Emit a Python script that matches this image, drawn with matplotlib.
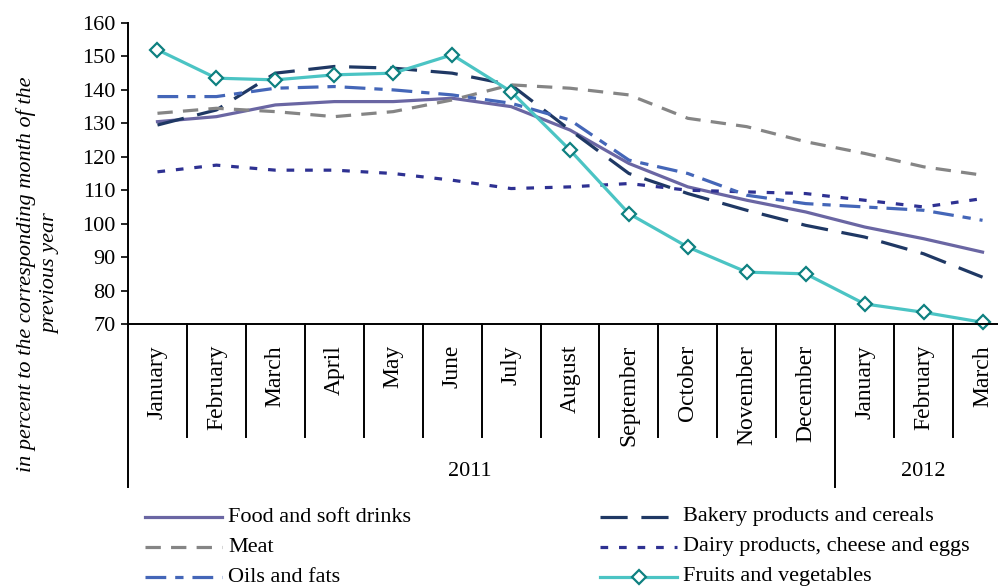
import matplotlib
matplotlib.use("Agg")
import matplotlib.pyplot as plt
from matplotlib.lines import Line2D
import matplotlib.transforms as mtrans

months = ["January", "February", "March", "April", "May", "June", "July",
          "August", "September", "October", "November", "December",
          "January", "February", "March"]
years = ["2011", "2012"]

food = [130.5, 132, 135.5, 136.5, 136.5, 137.5, 135, 128, 118, 111, 107, 103.5, 99, 95.5, 91.5]
bakery = [129.5, 134, 145, 147, 146.5, 145, 141.5, 128, 115, 109, 104, 99.5, 96, 91, 84]
meat = [133, 134.5, 133.5, 132, 133.5, 137, 141.5, 140.5, 138.5, 131.5, 129, 124.5, 121, 117, 114.5]
dairy = [115.5, 117.5, 116, 116, 115, 113, 110.5, 111, 112, 110, 109.5, 109, 107, 105, 107.5]
oils = [138, 138, 140.5, 141, 140, 138.5, 136, 131, 119, 115, 108.5, 106, 105, 104, 101]
fruits = [152, 143.5, 143, 144.5, 145, 150.5, 139.5, 122, 103, 93, 85.5, 85, 76, 73.5, 70.5]

plt.rcParams['font.family'] = ['Liberation Serif', 'DejaVu Serif']
FS = 16

W, H = 998, 588
fig = plt.figure(figsize=(W / 100, H / 100), dpi=100)
left, right, top, bottom = 128, 1012, 23, 324
ax = fig.add_axes([left / W, 1 - bottom / H, (right - left) / W, (bottom - top) / H])

x = list(range(len(months)))
lw = 2.3
styles = [
    ("Food and soft drinks", food, dict(color="#6A66A3", lw=lw, ls="-")),
    ("Bakery products and cereals", bakery, dict(color="#1F3864", lw=lw, ls=(0, (8.5, 4.3)))),
    ("Meat", meat, dict(color="#858585", lw=lw, ls=(0, (4.8, 3.2)))),
    ("Dairy products, cheese and eggs", dairy, dict(color="#2E3192", lw=lw, ls=(0, (2.4, 3.4)))),
    ("Oils and fats", oils, dict(color="#4466B8", lw=lw, ls=(0, (6.5, 2.8, 2.6, 2.8)))),
    ("Fruits and vegetables", fruits, dict(color="#4BC4C4", lw=lw, ls="-", marker="D",
                                          ms=7.5, mfc="white", mec="#0E8080", mew=1.6)),
]
for name, vals, st in styles:
    ax.plot(x, vals, clip_on=False, zorder=3, **st)

ax.set_xlim(-0.5, len(months) - 0.5)
ax.set_ylim(70, 160)
ax.set_yticks(range(70, 161, 10))
ax.tick_params(axis='y', direction='out', length=5, width=1.2, labelsize=FS, pad=4)
ax.tick_params(axis='x', length=0, labelbottom=False)
for s in ["top", "right"]:
    ax.spines[s].set_visible(False)
ax.spines["left"].set_linewidth(1.4)
ax.spines["bottom"].set_linewidth(1.4)
ax.spines["bottom"].set_zorder(4)

trans = mtrans.blended_transform_factory(ax.transData, ax.transAxes)
axh = bottom - top
for i in range(len(months) + 1):
    xs = i - 0.5
    depth = (487 - bottom) / axh if i in (0, 12) else (437 - bottom) / axh
    ax.add_line(Line2D([xs, xs], [0, -depth], transform=trans, color="black",
                       lw=1.4, clip_on=False))
for i, m in enumerate(months):
    ax.text(i, -(345 - bottom) / axh, m, transform=trans, rotation=90,
            ha="center", va="top", fontsize=17)
ax.text(5.3, -(472 - bottom) / axh, years[0], transform=trans, ha="center",
        va="center", fontsize=FS)
ax.text(13.0, -(472 - bottom) / axh, years[1], transform=trans, ha="center",
        va="center", fontsize=FS)

fig.text(38 / W, 1 - 274 / H, "in percent to the corresponding month of the\nprevious year",
         rotation=90, ha="center", va="center", fontsize=FS, style="italic",
         linespacing=1.4)

# legend
cols = [(145, 222, 228), (600, 677, 683)]
rows = [517, 547, 577]
for k, (name, vals, st) in enumerate(styles):
    c = k % 2
    r = k // 2
    x0, x1, tx = cols[c]
    yy = 1 - rows[r] / H
    st2 = dict(st)
    mk = st2.pop("marker", None)
    ms = st2.pop("ms", None)
    mfc = st2.pop("mfc", None)
    mec = st2.pop("mec", None)
    mew = st2.pop("mew", None)
    fig.add_artist(Line2D([x0 / W, x1 / W], [yy, yy], transform=fig.transFigure, **st2))
    if mk:
        fig.add_artist(Line2D([(x0 + x1) / 2 / W], [yy], transform=fig.transFigure,
                              marker=mk, ms=ms, mfc=mfc, mec=mec, mew=mew, ls="none"))
    fig.text(tx / W, yy, name, ha="left", va="center", fontsize=FS)

fig.savefig("out.png", dpi=100)
